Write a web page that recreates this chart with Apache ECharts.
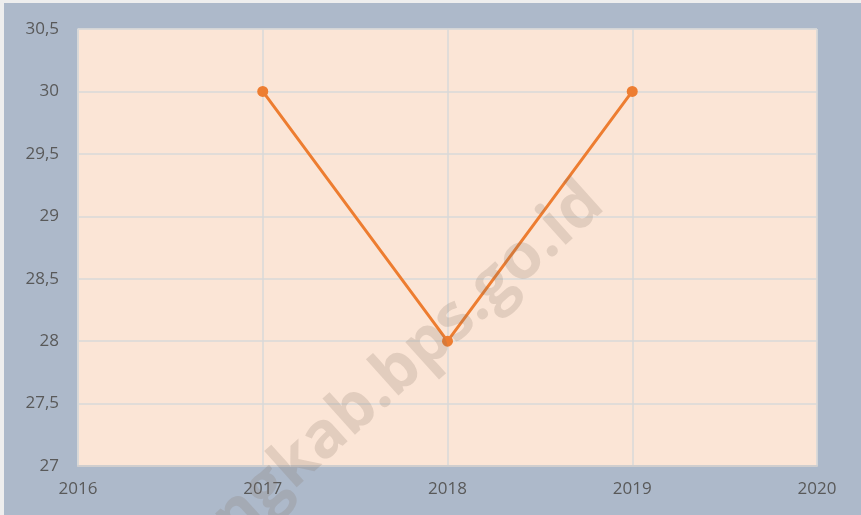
<!DOCTYPE html>
<html>
<head>
<meta charset="utf-8">
<script src="https://cdn.jsdelivr.net/npm/echarts@6/dist/echarts.min.js"></script>
<style>
  body { margin: 0; background: #eeeeee; }
  #main { position: absolute; left: 4px; top: 3px; width: 857px; height: 512px; }
</style>
</head>
<body>
<div id="main"></div>
<script>
var years = [2017, 2018, 2019];
var values = [30, 28, 30];

var chart = echarts.init(document.getElementById('main'));
var labelStyle = { color: '#595959', fontSize: 17, fontFamily: 'Open Sans' };

var option = {
    backgroundColor: '#adb9ca',
    animation: false,
    grid: {
        left: 74, right: 44, top: 26, bottom: 49,
        show: true,
        backgroundColor: '#fbe5d6',
        borderColor: '#d9d9d9',
        borderWidth: 1
    },
    xAxis: {
        type: 'value',
        min: 2016, max: 2020, interval: 1,
        axisLine: { show: true, lineStyle: { color: '#d0cece', width: 2 } },
        axisTick: { show: false },
        splitLine: { show: true, lineStyle: { color: '#d9d9d9', width: 1.5 } },
        axisLabel: Object.assign({
            margin: 15,
            formatter: function (v) { return String(v); }
        }, labelStyle)
    },
    yAxis: {
        type: 'value',
        min: 27, max: 30.5, interval: 0.5,
        axisLine: { show: true, lineStyle: { color: '#d9d9d9', width: 1.5 } },
        axisTick: { show: false },
        splitLine: { show: true, lineStyle: { color: '#d9d9d9', width: 1.5 } },
        axisLabel: Object.assign({
            margin: 19,
            formatter: function (v) { return String(v).replace('.', ','); }
        }, labelStyle)
    },
    graphic: [{
        type: 'text',
        rotation: Math.PI * 42 / 180,
        x: 240, y: 550,
        style: {
            text: 'ngkab.bps.go.id',
            fill: 'rgba(130,110,95,0.2)',
            font: 'bold 64px "Open Sans"',
            verticalAlign: 'bottom'
        },
        z: 100
    }],
    series: [{
        type: 'line',
        data: years.map(function (y, i) { return [y, values[i]]; }),
        symbol: 'circle',
        symbolSize: 11,
        itemStyle: { color: '#ed7d31' },
        lineStyle: { color: '#ed7d31', width: 3 }
    }]
};
chart.setOption(option);
</script>
</body>
</html>
